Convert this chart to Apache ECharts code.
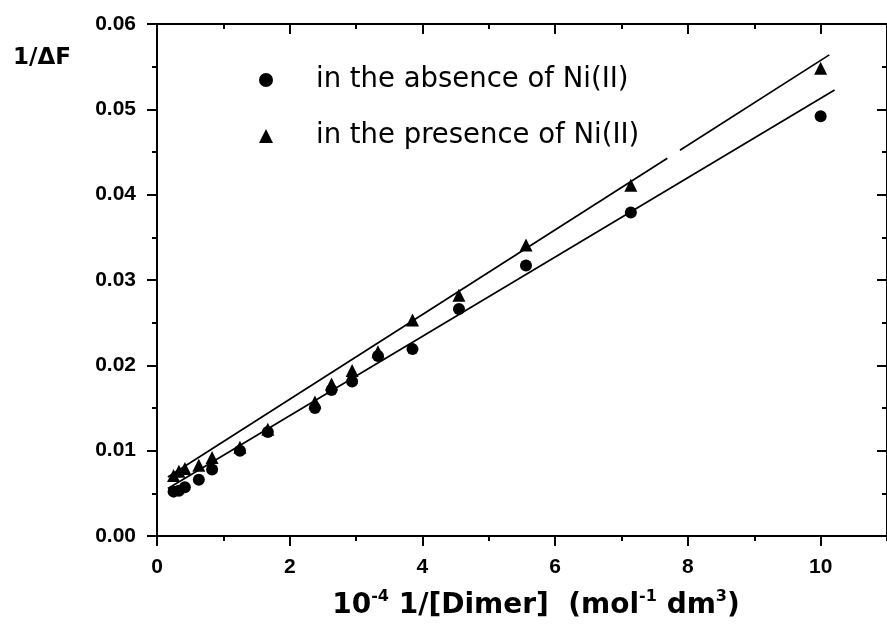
<!DOCTYPE html>
<html><head><meta charset="utf-8">
<script src="https://cdn.jsdelivr.net/npm/echarts@6/dist/echarts.min.js"></script>
<style>html,body{margin:0;padding:0;background:#fff}#c{width:887px;height:628px}</style>
</head><body><div id="c"></div>
<script>
// x = 10^-4 1/[Dimer]
const xValues = [0.25, 0.33, 0.42, 0.63, 0.83, 1.25, 1.67, 2.38, 2.63, 2.94, 3.33, 3.85, 4.55, 5.56, 7.14, 10.0];
const yAbsence = [0.0052, 0.0053, 0.0057, 0.0066, 0.0078, 0.0100, 0.0122, 0.0150, 0.0171, 0.0181, 0.0211, 0.0219, 0.0266, 0.0317, 0.0379, 0.0492];
const yPresence = [0.0071, 0.0076, 0.0079, 0.0083, 0.0092, 0.0104, 0.0125, 0.0157, 0.0178, 0.0194, 0.0216, 0.0253, 0.0282, 0.0341, 0.0411, 0.0548];
// fitted lines (end points; the upper line has a break)
const fitAbsence = [[0.164, 0.00556], [10.21, 0.05227]];
const fitPresenceA = [[0.164, 0.00692], [7.69, 0.04427]];
const fitPresenceB = [[7.88, 0.04521], [10.13, 0.05638]];
const seriesNames = ['in the absence of Ni(II)', 'in the presence of Ni(II)'];
const yLabelDecimals = 2;

const chart = echarts.init(document.getElementById('c'), null, {renderer: 'canvas'});
const black = '#000';
const lineW = 2;
const tickFont = {fontFamily: 'Liberation Sans', fontSize: 21, fontWeight: 'bold', color: black};

function xAx(pos, interval, len, inside, showLine, showLabel) {
  return {
    type: 'value', min: 0, max: 11, interval: interval, position: pos,
    axisLine: {show: showLine, onZero: false, lineStyle: {color: black, width: lineW}},
    axisTick: {show: true, inside: inside, length: len, lineStyle: {color: black, width: lineW}},
    axisLabel: Object.assign({show: showLabel, margin: 21, showMaxLabel: false, showMinLabel: true}, tickFont),
    splitLine: {show: false}
  };
}
function yAx(pos, inside, showLabel) {
  return {
    type: 'value', min: 0, max: 0.06, interval: 0.01, position: pos,
    axisLine: {show: true, onZero: false, lineStyle: {color: black, width: lineW}},
    axisTick: {show: true, inside: inside, length: 10, lineStyle: {color: black, width: lineW}},
    minorTick: {show: true, splitNumber: 2, length: 5, lineStyle: {color: black, width: lineW}},
    axisLabel: Object.assign({show: showLabel, margin: 21, formatter: v => v.toFixed(yLabelDecimals)}, tickFont),
    splitLine: {show: false}, minorSplitLine: {show: false}
  };
}

const option = {
  animation: false,
  backgroundColor: '#fff',
  grid: {left: 157, top: 24, width: 737.4, height: 512, containLabel: false},
  xAxis: [
    xAx('bottom', 2, 10, false, true, true),
    xAx('bottom', 1, 5, false, false, false),
    xAx('top', 2, 10, true, true, false),
    xAx('top', 1, 5, true, false, false)
  ],
  yAxis: [yAx('left', false, true), yAx('right', true, false)],
  legend: {
    orient: 'vertical', left: 254, top: 61, itemWidth: 14, itemHeight: 14, itemGap: 28,
    selectedMode: false, data: seriesNames,
    textStyle: {fontFamily: 'DejaVu Sans', fontSize: 27.5, color: black, padding: [0, 0, 0, 38]}
  },
  graphic: [
    {type: 'text', x: 42, y: 58, style: {text: '1/ΔF', fontFamily: 'DejaVu Sans', fontSize: 23, fontWeight: 'bold', fill: black, align: 'center', verticalAlign: 'middle'}},
    {type: 'text', x: 536, y: 606, style: {
      text: '{n|10}{s|-4}{n| 1/[Dimer]  (mol}{s|-1}{n| dm}{s|3}{n|)}',
      align: 'center', verticalAlign: 'middle', fill: black,
      rich: {
        n: {fontFamily: 'DejaVu Sans', fontSize: 28, fontWeight: 'bold', lineHeight: 35, fill: black, verticalAlign: 'middle'},
        s: {fontFamily: 'DejaVu Sans', fontSize: 16, fontWeight: 'bold', lineHeight: 17, fill: black, verticalAlign: 'top'}
      }
    }}
  ],
  series: [
    {type: 'line', data: fitAbsence, symbol: 'none', silent: true, lineStyle: {color: black, width: 1.7}, z: 2},
    {type: 'line', data: fitPresenceA, symbol: 'none', silent: true, lineStyle: {color: black, width: 1.7}, z: 2},
    {type: 'line', data: fitPresenceB, symbol: 'none', silent: true, lineStyle: {color: black, width: 1.7}, z: 2},
    {name: seriesNames[0], type: 'scatter', symbol: 'circle', symbolSize: 12, itemStyle: {color: black, opacity: 1}, z: 3,
     data: xValues.map((x, i) => [x, yAbsence[i]])},
    {name: seriesNames[1], type: 'scatter', symbol: 'triangle', symbolSize: 13, itemStyle: {color: black, opacity: 1}, z: 3,
     data: xValues.map((x, i) => [x, yPresence[i]])}
  ]
};
chart.setOption(option);
</script>
</body></html>
